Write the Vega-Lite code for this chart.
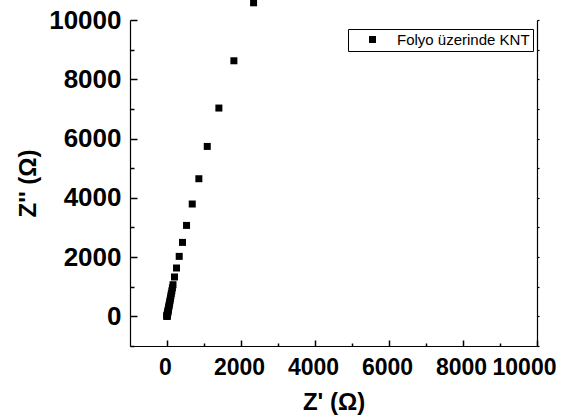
{
  "$schema": "https://vega.github.io/schema/vega-lite/v6.json",
  "autosize": "none",
  "width": 407,
  "height": 326,
  "padding": {"left": 130, "top": 20, "right": 37, "bottom": 73},
  "background": "white",
  "config": {
    "font": "Liberation Sans",
    "view": {"stroke": null},
    "axis": {"grid": false, "domainColor": "black", "labelColor": "black", "titleColor": "black", "domainWidth": 1.2, "format": "d", "labelOverlap": false}
  },
  "data": {
    "values": [
      {"zr": 2340, "zi": 10580}, {"zr": 1808, "zi": 8624}, {"zr": 1402, "zi": 7029},
      {"zr": 1088, "zi": 5734}, {"zr": 861, "zi": 4644}, {"zr": 682, "zi": 3791},
      {"zr": 528, "zi": 3069}, {"zr": 419, "zi": 2496}, {"zr": 330, "zi": 2024},
      {"zr": 257, "zi": 1632}, {"zr": 203, "zi": 1329}, {"zr": 162, "zi": 1068},
      {"zr": 146, "zi": 960}, {"zr": 131, "zi": 860}, {"zr": 117, "zi": 770},
      {"zr": 105, "zi": 690}, {"zr": 94, "zi": 615}, {"zr": 83, "zi": 545},
      {"zr": 73, "zi": 480}, {"zr": 64, "zi": 420}, {"zr": 56, "zi": 365},
      {"zr": 48, "zi": 315}, {"zr": 41, "zi": 270}, {"zr": 35, "zi": 228},
      {"zr": 29, "zi": 190}, {"zr": 24, "zi": 155}, {"zr": 19, "zi": 125},
      {"zr": 15, "zi": 98}, {"zr": 11, "zi": 75}, {"zr": 8, "zi": 55},
      {"zr": 6, "zi": 38}, {"zr": 4, "zi": 24}, {"zr": 2, "zi": 13},
      {"zr": 1, "zi": 5}, {"zr": 0, "zi": 0}
    ]
  },
  "layer": [
    {
      "mark": {"type": "square", "size": 49, "opacity": 1, "filled": true, "clip": false},
      "encoding": {
        "x": {
          "field": "zr", "type": "quantitative",
          "scale": {"domain": [-1000, 10000], "nice": false, "zero": false},
          "axis": {
            "orient": "bottom", "values": [0, 2000, 4000, 6000, 8000, 10000],
            "ticks": false, "labelPadding": 10, "labelFontSize": 23, "labelFontWeight": "bold",
            "labelFlush": true, "labelFlushOffset": 21, "labelOffset": -2,
            "title": "Z' (Ω)", "titleFontSize": 24, "titleFontWeight": "bold", "titlePadding": 11
          }
        },
        "y": {
          "field": "zi", "type": "quantitative",
          "scale": {"domain": [-1000, 10000], "nice": false, "zero": false},
          "axis": {
            "orient": "left", "values": [0, 2000, 4000, 6000, 8000, 10000],
            "ticks": false, "labelPadding": 9, "labelFontSize": 26, "labelFontWeight": "bold",
            "title": "Z'' (Ω)", "titleFontSize": 24, "titleFontWeight": "bold", "titlePadding": 8
          }
        },
        "color": {
          "datum": "Folyo üzerinde KNT", "type": "nominal",
          "scale": {"range": ["black"]},
          "legend": {
            "title": null, "orient": "none", "legendX": 218, "legendY": 9,
            "strokeColor": "black", "padding": 3,
            "symbolType": "square", "symbolSize": 49, "symbolOffset": 14, "symbolStrokeWidth": 0,
            "labelFontSize": 15, "labelOffset": 17, "labelColor": "black", "labelLimit": 300
          }
        }
      }
    },
    {
      "mark": {"type": "point", "opacity": 0},
      "encoding": {
        "x": {
          "field": "zr", "type": "quantitative",
          "scale": {"domain": [-1000, 10000], "nice": false, "zero": false},
          "axis": {"orient": "bottom", "values": [0, 2000, 4000, 6000, 8000, 10000], "offset": -6, "ticks": true, "tickSize": 6, "tickColor": "black", "tickWidth": 1.5, "labels": false, "domain": false, "title": null}
        },
        "y": {
          "field": "zi", "type": "quantitative",
          "scale": {"domain": [-1000, 10000], "nice": false, "zero": false},
          "axis": {"orient": "left", "values": [0, 2000, 4000, 6000, 8000, 10000], "offset": -7, "ticks": true, "tickSize": 7, "tickColor": "black", "tickWidth": 1.5, "labels": false, "domain": false, "title": null}
        }
      }
    },
    {
      "mark": {"type": "point", "opacity": 0},
      "encoding": {
        "x": {
          "field": "zr", "type": "quantitative",
          "scale": {"domain": [-1000, 10000], "nice": false, "zero": false},
          "axis": {"orient": "bottom", "values": [1000, 3000, 5000, 7000, 9000], "offset": -3, "ticks": true, "tickSize": 3, "tickColor": "black", "tickWidth": 1.5, "labels": false, "domain": false, "title": null}
        },
        "y": {
          "field": "zi", "type": "quantitative",
          "scale": {"domain": [-1000, 10000], "nice": false, "zero": false},
          "axis": {"orient": "left", "values": [-1000, 1000, 3000, 5000, 7000, 9000], "offset": -4, "ticks": true, "tickSize": 4, "tickColor": "black", "tickWidth": 1.5, "labels": false, "domain": false, "title": null}
        }
      }
    },
    {
      "mark": {"type": "point", "opacity": 0},
      "encoding": {
        "x": {
          "field": "zr", "type": "quantitative",
          "scale": {"domain": [-1000, 10000], "nice": false, "zero": false},
          "axis": null
        },
        "y": {
          "field": "zi", "type": "quantitative",
          "scale": {"domain": [-1000, 10000], "nice": false, "zero": false},
          "axis": {"orient": "right", "values": [-1000, 0, 1000, 2000, 3000, 4000, 5000, 6000, 7000, 8000, 9000, 10000], "ticks": true, "tickSize": 2, "tickColor": "black", "tickWidth": 1.2, "labels": false, "title": null}
        }
      }
    }
  ],
  "resolve": {"axis": {"x": "independent", "y": "independent"}}
}
